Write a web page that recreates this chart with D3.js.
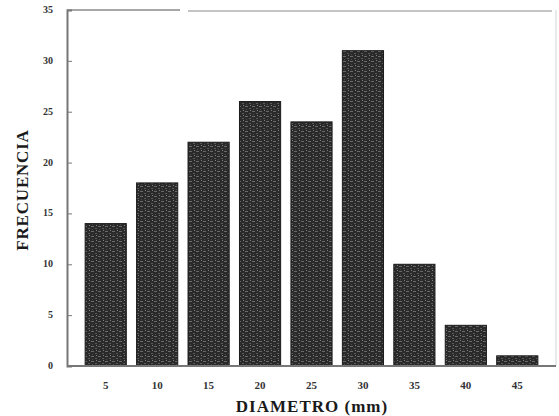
<!DOCTYPE html>
<html>
<head>
<meta charset="utf-8">
<script src="https://cdn.jsdelivr.net/npm/d3@7"></script>
<style>
  body { margin: 0; background: #fff; }
  text { font-family: "Liberation Serif", "DejaVu Serif", serif; }
</style>
</head>
<body>
<svg id="chart" width="559" height="416"></svg>
<script>
// data
var diametros = ["5", "10", "15", "20", "25", "30", "35", "40", "45"];
var frecuencias = [14, 18, 22, 26, 24, 31, 10, 4, 1];
var yTicks = [0, 5, 10, 15, 20, 25, 30, 35];

var svg = d3.select("#chart");

// plot edges (window.top is reserved, so use other names)
var plotLeft = 67, plotRight = 556, plotTop = 10, plotBottom = 366;

var x = d3.scaleBand()
    .domain(diametros)
    .range([80, 543])
    .paddingInner(0.2)
    .paddingOuter(0.1);

var y = d3.scaleLinear()
    .domain([0, 35])
    .range([plotBottom, plotTop]);

// speckled dark fill, like the scanned bars
var defs = svg.append("defs");
var pat = defs.append("pattern")
    .attr("id", "grain")
    .attr("patternUnits", "userSpaceOnUse")
    .attr("width", 7)
    .attr("height", 5);
pat.append("rect").attr("width", 7).attr("height", 5).attr("fill", "#2a2a2a");
pat.append("rect").attr("x", 0).attr("y", 1).attr("width", 3).attr("height", 1).attr("fill", "#6a6a6a");
pat.append("rect").attr("x", 4).attr("y", 3).attr("width", 2).attr("height", 1).attr("fill", "#5a5a5a");
pat.append("rect").attr("x", 5).attr("y", 0).attr("width", 1).attr("height", 1).attr("fill", "#808080");
pat.append("rect").attr("x", 1).attr("y", 4).attr("width", 1).attr("height", 1).attr("fill", "#4a4a4a");

// frame: top edge (darker on the left) and faint right edge
svg.append("line")
    .attr("x1", 188).attr("x2", plotRight - 4)
    .attr("y1", plotTop + 1).attr("y2", plotTop + 1)
    .attr("stroke", "#c4c4c4").attr("stroke-width", 2);
svg.append("line")
    .attr("x1", plotLeft).attr("x2", 180)
    .attr("y1", plotTop).attr("y2", plotTop)
    .attr("stroke", "#8a8a8a").attr("stroke-width", 1.5);
svg.append("line")
    .attr("x1", plotRight).attr("x2", plotRight)
    .attr("y1", plotTop).attr("y2", plotBottom)
    .attr("stroke", "#d4d4d4").attr("stroke-width", 1);

// bars
svg.append("g")
    .selectAll("rect")
    .data(frecuencias)
    .enter()
    .append("rect")
    .attr("x", function(d, i){ return x(diametros[i]); })
    .attr("y", function(d){ return y(d); })
    .attr("width", x.bandwidth())
    .attr("height", function(d){ return y(0) - y(d); })
    .attr("fill", "url(#grain)")
    .attr("stroke", "#1a1a1a")
    .attr("stroke-width", 1);

// y axis, ticks pointing inward
var yAxis = d3.axisRight(y)
    .tickValues(yTicks)
    .tickSize(5)
    .tickFormat(function(d){ return ""; });
var ya = svg.append("g")
    .attr("transform", "translate(" + plotLeft + ",0)")
    .call(yAxis);
ya.select(".domain").attr("stroke", "#777").attr("stroke-width", 2);
ya.selectAll(".tick line").attr("stroke", "#777");

svg.append("g")
    .selectAll("text")
    .data(yTicks)
    .enter()
    .append("text")
    .attr("x", plotLeft - 14)
    .attr("y", function(d){ return y(d) + 3; })
    .attr("text-anchor", "end")
    .attr("font-size", 10)
    .attr("font-weight", "bold")
    .attr("fill", "#333")
    .text(function(d){ return d; });

// x axis
var xAxis = d3.axisBottom(x).tickSize(0).tickPadding(15);
var xa = svg.append("g")
    .attr("transform", "translate(0," + plotBottom + ")")
    .call(xAxis);
xa.select(".domain")
    .attr("d", "M" + plotLeft + ",0H" + plotRight)
    .attr("stroke", "#777").attr("stroke-width", 2);
xa.selectAll(".tick text")
    .attr("font-family", "Liberation Serif, serif")
    .attr("font-size", 11)
    .attr("font-weight", "bold")
    .attr("fill", "#333");

// axis titles
svg.append("text")
    .attr("x", 312)
    .attr("y", 412)
    .attr("text-anchor", "middle")
    .attr("font-size", 17)
    .attr("font-weight", "bold")
    .attr("letter-spacing", 1)
    .attr("fill", "#1a1a1a")
    .text("DIAMETRO (mm)");

svg.append("text")
    .attr("transform", "translate(28,190) rotate(-90)")
    .attr("text-anchor", "middle")
    .attr("font-size", 17)
    .attr("font-weight", "bold")
    .attr("letter-spacing", 0.8)
    .attr("fill", "#1a1a1a")
    .text("FRECUENCIA");
</script>
</body>
</html>
